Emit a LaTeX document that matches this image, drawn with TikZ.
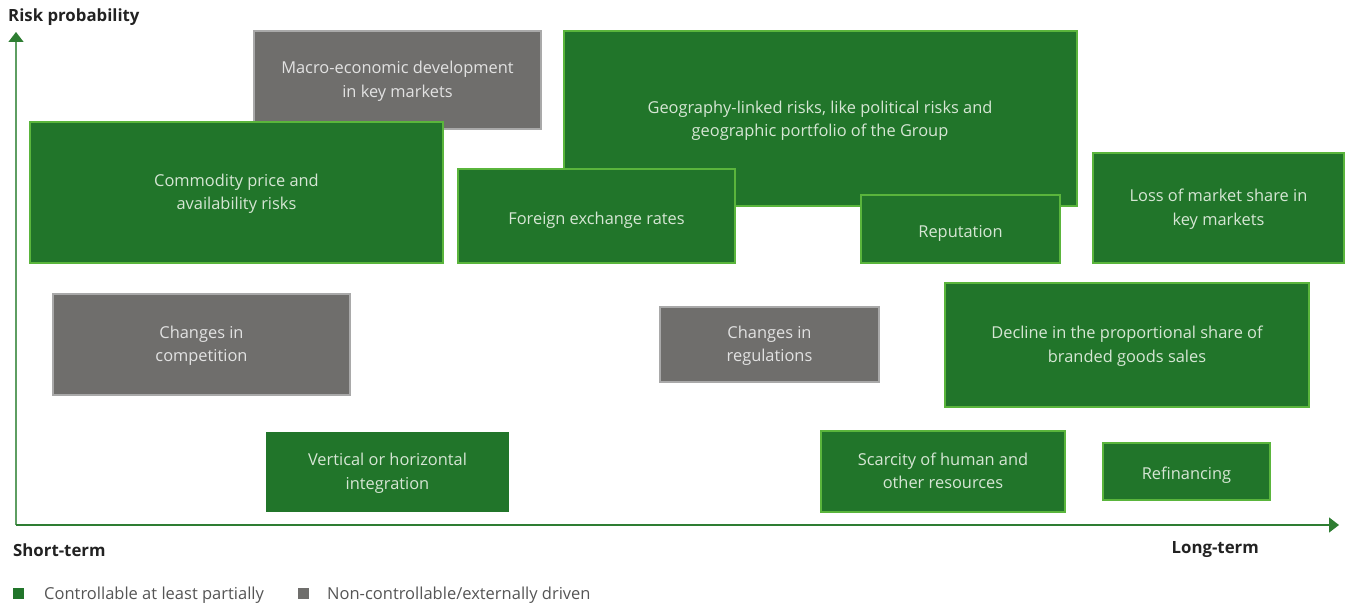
\documentclass[tikz,border=0pt]{standalone}
\usepackage{fontspec}
\setmainfont{Open Sans}
\usetikzlibrary{arrows.meta}
\definecolor{ctrlfill}{HTML}{21752A}
\definecolor{ctrledge}{HTML}{5AB53C}
\definecolor{extfill}{HTML}{6F6E6C}
\definecolor{extedge}{HTML}{A9A9A9}
\definecolor{ctrltext}{HTML}{D6E6D4}
\definecolor{exttext}{HTML}{E2E2E2}
\definecolor{axisgreen}{HTML}{2E7D32}
\definecolor{axislight}{HTML}{5E9E62}
\definecolor{labeltext}{HTML}{222222}
\definecolor{legendtext}{HTML}{555555}
\begin{document}
\begin{tikzpicture}[x=1pt,y=-1pt,
  riskbox/.style={rectangle, inner sep=0pt, align=center, line width=2pt,
    font=\fontsize{16.4}{23.5}\selectfont, text depth=1.5pt,
    execute at begin node={\rule{0pt}{17.5pt}}},
  ctrl/.style={riskbox, fill=ctrlfill, draw=ctrledge, text=ctrltext},
  ctrlplain/.style={riskbox, fill=ctrlfill, text=ctrltext},
  ext/.style={riskbox, fill=extfill, draw=extedge, text=exttext},
  axislabel/.style={font=\fontsize{16.8}{20}\selectfont\bfseries, text=labeltext, inner sep=0pt},
  legendtxt/.style={font=\fontsize{16.5}{20}\selectfont, text=legendtext, inner sep=0pt, anchor=west},
  swatch/.style={rectangle, inner sep=0pt, minimum width=11pt, minimum height=11pt},
  axisarrow/.style={line width=1.4pt, -{Triangle[length=10pt,width=15pt,color=axisgreen,fill=axisgreen]}}
]
\useasboundingbox (0,0) rectangle (1346,607);

% axes
\coordinate (origin) at (16,525);
\coordinate (ytop) at (16,32);
\coordinate (xend) at (1339,525);
\draw[axisarrow, draw=axislight] (origin) -- (ytop);
\draw[axisarrow, draw=axisgreen] (origin) -- (xend);

\node[axislabel, anchor=west] (yl) at (8,17.5) {Risk probability};
\node[axislabel, anchor=west] (xs) at (13,550) {Short-term};
\node[axislabel, anchor=east] (xl) at (1259,550) {Long-term};

% risk boxes (drawn back to front)
\node[ext, minimum width=287pt, minimum height=98pt] (macro) at (397.5,80) {Macro-economic development\\in key markets};
\node[ctrl, minimum width=513pt, minimum height=175pt] (geo) at (820.5,118.5) {};
\node[text=ctrltext, align=center, font=\fontsize{16.4}{23.5}\selectfont, inner sep=0pt] (geotext) at (820,120.5) {Geography-linked risks, like political risks and\\geographic portfolio of the Group};
\node[ctrl, minimum width=413pt, minimum height=141pt] (commodity) at (236.5,192.5) {Commodity price and\\availability risks};
\node[ctrl, minimum width=277pt, minimum height=94pt] (fx) at (596.5,216) {Foreign exchange rates};
\node[ctrl, minimum width=199pt, minimum height=68pt] (reputation) at (960.5,229) {Reputation};
\node[ctrl, minimum width=251pt, minimum height=110pt] (market) at (1218.5,208) {Loss of market share in\\key markets};
\node[ext, minimum width=297pt, minimum height=101pt] (competition) at (201.5,344.5) {Changes in\\competition};
\node[ext, minimum width=219pt, minimum height=75pt] (regulations) at (769.5,344.5) {Changes in\\regulations};
\node[ctrl, minimum width=364pt, minimum height=124pt] (branded) at (1127,345) {Decline in the proportional share of\\branded goods sales};
\node[ctrlplain, minimum width=243pt, minimum height=80pt] (integration) at (387.5,472) {Vertical or horizontal\\integration};
\node[ctrl, minimum width=244pt, minimum height=81pt] (scarcity) at (943,471.5) {Scarcity of human and\\other resources};
\node[ctrl, minimum width=167pt, minimum height=57pt] (refinancing) at (1186.5,471.5) {Refinancing};

% legend
\node[swatch, fill=ctrlfill] (lgc) at (18.5,593) {};
\node[legendtxt] (lgctext) at (44,595) {Controllable at least partially};
\node[swatch, fill=extfill] (lge) at (303,593) {};
\node[legendtxt] (lgetext) at (327,595) {Non-controllable/externally driven};
\end{tikzpicture}
\end{document}
